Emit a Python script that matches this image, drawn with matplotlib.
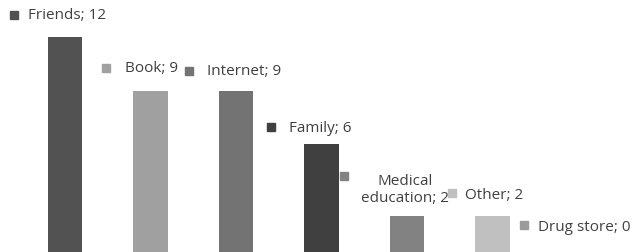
import matplotlib
matplotlib.use("Agg")
import matplotlib.pyplot as plt
from matplotlib.transforms import offset_copy

categories = ["Friends", "Book", "Internet", "Family", "Medical\neducation", "Other", "Drug store"]
values = [12, 9, 9, 6, 2, 2, 0]
colors = ["#525252", "#a0a0a0", "#737373", "#404040", "#828282", "#c0c0c0", "#9a9a9a"]

# label placement relative to bar top (pixels): square dx, square dy, text dx, text dy
label_offsets = [
    (-51, 22, -37, 22),
    (-44, 23, -25, 23),
    (-47, 20, -29, 20),
    (-51, 17, -33, 17),
    (-63, 40, -2, 27),
    (-41, 23, -28, 22),
    (-54, 27, -40, 25),
]

plt.rcParams["font.family"] = ["Open Sans", "DejaVu Sans"]

fig = plt.figure(figsize=(6.33, 2.53), dpi=100)
ax = fig.add_axes([0, 0, 1, 1])

x = range(len(categories))
ax.bar(x, values, width=0.40, color=colors)

for i, (cat, v, c) in enumerate(zip(categories, values, colors)):
    sdx, sdy, tdx, tdy = label_offsets[i]
    tr = offset_copy(ax.transData, fig=fig, x=sdx, y=sdy, units="dots")
    ax.plot([i], [v], marker="s", markersize=5.8, color=c, transform=tr, clip_on=False)
    label = f"{cat}; {v}"
    if "\n" in cat:
        ax.annotate(label, (i, v), xytext=(tdx, tdy), textcoords="offset pixels",
                    ha="center", va="center", fontsize=11, color="#404040",
                    multialignment="center", linespacing=1.15)
    else:
        ax.annotate(label, (i, v), xytext=(tdx, tdy), textcoords="offset pixels",
                    ha="left", va="center", fontsize=11, color="#404040")

ax.set_xlim(-0.760, 6.643)
ax.set_ylim(0, 14.12)
ax.axis("off")

fig.savefig("out.png", dpi=100)
